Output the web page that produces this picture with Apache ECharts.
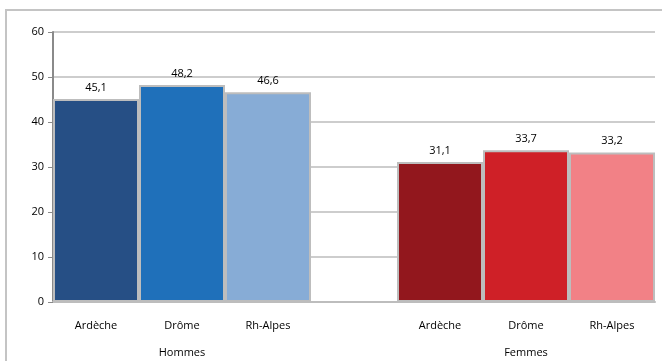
<!DOCTYPE html>
<html>
<head>
<meta charset="utf-8">
<script src="https://cdn.jsdelivr.net/npm/echarts@6/dist/echarts.min.js"></script>
<style>
    html, body {margin: 0; padding: 0; background: #fff;}
    #myChart {width: 662px; height: 361px;}
</style>
</head>
<body>
<div id="myChart"></div>
<script>
    // categories (the empty one is the gap between the two groups)
    var categories = ['Ardèche', 'Drôme', 'Rh-Alpes', '', 'Ardèche', 'Drôme', 'Rh-Alpes'];
    var groupLabels = ['', 'Hommes', '', '', '', 'Femmes', ''];
    var values = [45.1, 48.2, 46.6, '-', 31.1, 33.7, 33.2];
    var colors = ['#264f85', '#1f70ba', '#87acd6', '#fff', '#92171d', '#cf2027', '#f28186'];
    var yTicks = [0, 10, 20, 30, 40, 50, 60];

    var myChart = echarts.init(document.getElementById('myChart'));

    var seriesData = [];
    for (var i = 0; i < values.length; i++) {
        seriesData.push({value: values[i], itemStyle: {color: colors[i]}});
    }

    var option = {
        animation: false,
        textStyle: {fontFamily: 'Open Sans'},
        graphic: [
            {
                type: 'rect',
                shape: {x: 6, y: 10, width: 680, height: 380},
                style: {fill: 'none', stroke: '#c4c4c4', lineWidth: 2},
                silent: true
            }
        ],
        grid: {left: 53, right: 7, top: 32, bottom: 59},
        xAxis: [
            {
                type: 'category',
                data: categories,
                axisLine: {lineStyle: {color: '#bdbdbd', width: 2}},
                axisTick: {show: false},
                axisLabel: {color: '#000', fontSize: 11, margin: 18}
            },
            {
                type: 'category',
                position: 'bottom',
                offset: 28,
                data: groupLabels,
                axisLine: {show: false},
                axisTick: {show: false},
                axisLabel: {color: '#000', fontSize: 11, margin: 17, interval: 0}
            }
        ],
        yAxis: {
            type: 'value',
            min: yTicks[0],
            max: yTicks[yTicks.length - 1],
            interval: 10,
            axisLine: {show: true, lineStyle: {color: '#8a8a8a', width: 2}},
            axisTick: {show: true, length: 5, lineStyle: {color: '#8a8a8a'}},
            axisLabel: {color: '#000', fontSize: 11, margin: 9},
            splitLine: {lineStyle: {color: '#bcbcbc', width: 1.5}}
        },
        series: [
            {
                type: 'bar',
                xAxisIndex: 0,
                data: seriesData,
                barWidth: '100%',
                itemStyle: {borderColor: '#bdbdbd', borderWidth: 2},
                label: {
                    show: true,
                    position: 'top',
                    distance: 6,
                    color: '#000',
                    fontSize: 11,
                    formatter: function (p) {
                        return String(p.value).replace('.', ',');
                    }
                }
            }
        ]
    };

    myChart.setOption(option);
</script>
</body>
</html>
